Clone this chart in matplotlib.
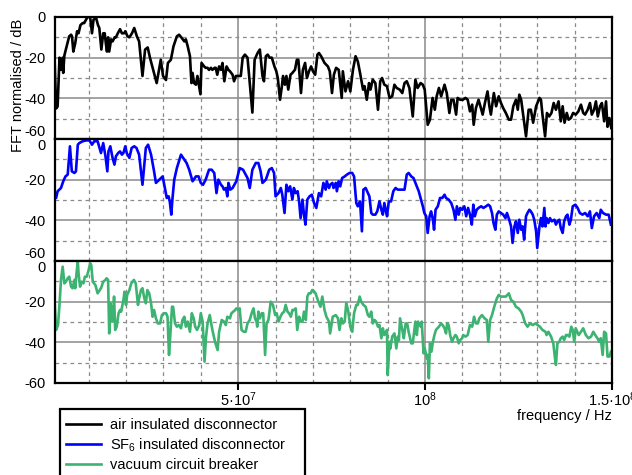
import matplotlib.pyplot as plt
from matplotlib.ticker import FixedLocator, MultipleLocator
from matplotlib.patches import Rectangle
import numpy as np

plt.rcParams['font.family'] = ['Liberation Sans', 'DejaVu Sans']
plt.rcParams['mathtext.fontset'] = 'custom'
plt.rcParams['mathtext.rm'] = 'Liberation Sans'
plt.rcParams['mathtext.it'] = 'Liberation Sans:italic'
plt.rcParams['axes.unicode_minus'] = False
plt.rcParams['font.size'] = 10.5

# normalised FFT spectra, frequency in MHz, level in dB
air_f = [0.8, 1.3, 1.7, 2.2, 2.6, 3.05, 3.2, 3.5, 3.9, 4.8, 5.3, 5.55, 5.9, 6.4, 6.9, 7.3, 7.8, 8.4, 8.8, 9.3,
         9.7, 10.4, 10.9, 11.3, 12.0, 12.5, 12.85, 13.4, 13.9, 14.3, 14.6, 14.9, 15.2, 15.5, 16.0, 16.4, 16.95,
         17.3, 17.8, 18.4, 18.9, 19.5, 19.8, 20.4, 20.9, 21.6, 22.2, 22.9, 23.5, 24.4, 25.1, 25.8, 26.4, 28.2,
         29.3, 29.9, 30.7, 31.2, 32.0, 32.7, 33.6, 34.2, 34.9, 35.6, 36.0, 36.5, 37.1, 37.5, 37.8, 38.2, 38.7,
         39.1, 39.9, 40.2, 40.9, 41.3, 41.8, 42.2, 42.7, 43.1, 43.7, 44.0, 44.4, 44.9, 45.4, 45.8, 46.3, 46.9,
         47.4, 47.8, 48.5, 48.9, 49.4, 50.1, 50.7, 51.2, 51.8, 52.5, 52.9, 53.8, 54.4, 55.2, 55.8, 56.5, 56.9,
         57.4, 57.9, 58.4, 59.0, 59.7, 60.2, 60.6, 61.2, 61.7, 62.0, 62.5, 62.9, 63.4, 64.0, 64.5, 65.2, 65.7,
         66.1, 66.8, 67.3, 67.9, 68.4, 68.95, 69.5, 70.0, 70.6, 71.2, 71.6,
         72.2, 73.1, 74.0, 74.5, 75.1, 75.6, 76.2, 76.9, 77.7, 78.0, 78.7, 79.4, 80.0, 80.7, 81.4, 82.0, 82.6,
         83.4, 83.8, 84.4, 85.0, 85.4, 86.0, 86.7, 87.4, 88.0, 88.5, 89.1, 89.8, 90.5, 91.2, 91.8, 92.4, 93.2,
         93.9, 94.5, 95.1, 95.8, 96.7, 97.4, 98.0, 98.8, 99.4, 99.9, 100.7, 101.3, 102.0, 102.6, 103.1, 103.7,
         104.3, 105.2, 105.8, 106.5, 107.0, 107.6, 108.3, 108.7, 109.4, 110.1, 110.8, 111.4, 112.0, 112.6,
         113.0, 113.6, 114.3, 114.8, 115.4, 116.0, 116.7, 117.2, 117.6, 118.4, 119.0, 119.7, 120.3, 120.9,
         121.6, 122.4, 123.0, 123.6, 124.3, 124.8, 125.2, 125.7, 127.0, 127.7, 128.3, 128.9, 129.7, 130.6,
         131.0, 131.4, 132.1, 132.6, 133.2, 133.8, 134.4, 135.0, 135.7, 136.3, 136.8, 137.3, 137.9, 138.4,
         139.0, 139.6, 140.3, 141.0, 141.7, 142.3, 142.8, 143.5, 144.1, 144.6, 145.2, 145.7, 146.2, 146.8,
         147.3, 147.9, 148.4, 148.8, 149.3, 149.8]
air_db = [-16, -45, -44, -20, -26, -20, -27.5, -19, -16, -9.5, -8.7, -9.5, -17, -13, -7, -8, -4, -3, -3, -1.3,
          0, 0, -8, -1.3, -0.5, -4, -5.4, -16, -8, -8, -13, -17, -10, -17, -11, -12, -10,
          -10, -8, -6, -8, -8, -7, -9.5, -10, -8, -5.4, -9.5, -12, -29, -16, -15, -20, -32.5,
          -21, -29, -31, -22.6, -21, -14.4, -9.5, -8.7, -10.3, -12, -11, -14.4, -19.3, -32.5, -27.5, -32.5, -33.3,
          -29, -38, -22.6, -24.3, -25, -25, -26, -25, -26, -25, -25, -28.4, -24.3, -26, -22.6, -31.6, -24.3,
          -26, -26.7, -28.4, -31.6, -29, -29, -29, -20, -18.5, -20, -28.4, -47, -21, -17.7, -16, -29, -31.6,
          -19.3, -18.5, -20, -20, -24.3, -26.7, -30, -40.7, -34, -29, -33.3, -29, -35.7, -28.4, -27.5, -25.9, -21,
          -21, -37.4, -26, -22.6, -30, -26.7, -24.3, -26.7, -28.4, -18.5, -17.7,
          -19.3, -22.6, -24.3, -26.7, -37.4, -28.4, -25, -26, -39.8, -26.7, -36.6, -31.6, -36.6, -26, -19.3, -21.8, -27.5,
          -35.7, -34, -40.7, -32.5, -35.7, -30.8, -32.5, -45.6, -31.6, -30, -33.3, -34, -39.8, -39, -33.3, -34.9, -35.7,
          -37.4, -32.5, -31.6, -34.9, -48.9, -30.8, -34.9, -32.5, -33.3, -35.7, -53, -50.5, -39.8, -45.6, -39, -34.9,
          -39, -33.3, -37.4, -47.2, -40.7, -40.7, -48, -39.8, -40.7, -40.7, -39.8, -40.7, -46.4, -43.1,
          -53, -44.8, -40.7, -43.9, -48, -42.3, -36.6, -43.9, -48, -37.4, -43.9, -39, -42.3, -44.8,
          -47.2, -50.5, -50.5, -43.9, -40.7, -45.6, -38.2, -40.7, -58.7, -45.6, -45.6, -52, -43.9, -39.8,
          -40.7, -48, -58.7, -47.2, -48.9, -47.2, -42.3, -45.6, -41.5, -51.3, -43.9, -52, -47.2, -50.5,
          -49.7, -47.2, -48, -46.4, -43.1, -47.2, -48, -45.6, -42.3, -48, -45.6, -41.5, -48.9, -43.9,
          -42.3, -51.3, -41.5, -54, -49.7, -54.6]

sf6_f = [0.8, 1.3, 1.7, 2.6, 3.2, 3.8, 4.4, 5.0, 5.5, 6.2, 6.6, 7.1, 7.5, 8.4, 9.3, 10.2, 10.9, 11.5, 12.4, 13.3,
         13.9, 14.5, 15.0, 15.3, 15.8, 16.4, 16.9, 17.3, 17.9, 18.4, 18.9, 19.3, 19.8, 20.2, 20.9, 21.5, 22.2,
         22.8, 23.5, 24.4, 25.3, 25.9, 26.7, 27.5, 28.0, 28.9, 29.8, 30.4, 30.9, 31.4, 31.7, 32.1, 32.4, 32.9,
         33.6, 34.7, 35.6, 36.2, 36.9, 37.8, 38.7, 39.4, 40.0, 40.6, 41.3, 42.2, 42.9, 43.6, 44.2, 44.7, 45.4,
         45.8, 46.2, 46.7, 47.1, 47.4, 47.9, 48.5, 49.5, 50.4, 51.3, 52.5, 53.1, 53.8, 54.7, 55.4, 56.0, 56.5,
         57.4, 58.3, 59.0, 59.6, 60.0, 60.8, 61.4, 61.8, 62.4, 62.9, 63.4, 63.9, 64.5, 64.9, 65.4, 65.9, 66.3,
         66.7, 67.2, 67.6, 68.0, 68.5, 69.1, 69.7, 70.3, 70.9,
         71.6, 72.2, 72.8, 73.4, 73.7, 74.3, 74.6, 75.2, 75.5, 76.1, 76.4, 76.9, 77.3, 77.8, 78.5, 79.1, 79.8,
         80.5, 81.0, 81.6, 82.0, 82.6, 83.1, 83.5, 84.1, 84.7, 85.1, 85.6, 86.0, 86.7, 87.2, 87.8, 88.3, 88.7,
         89.1, 89.8, 90.3, 90.9, 91.5, 92.1, 92.7, 93.6, 94.5, 95.1, 95.6, 96.3, 96.9, 97.6, 98.3, 98.9, 99.4,
         99.8, 100.3, 100.7, 101.2, 101.6, 102.1, 102.4, 102.8, 103.4, 104.0, 104.6, 105.2, 105.6, 106.3,
         107.0, 107.6, 108.1, 108.5, 109.0, 109.4, 109.9, 110.5, 111.0, 111.5, 112.0, 112.5, 112.9, 113.3,
         113.8, 114.3, 115.0, 115.6, 116.3, 116.9, 117.4, 117.9, 118.3, 118.8, 119.2, 119.7, 120.3, 120.9,
         121.5, 121.9, 122.5, 123.0, 123.4, 123.9, 124.3, 124.8, 125.2, 125.7, 126.1, 126.5, 127.0, 127.4,
         127.9, 128.3, 128.8, 129.2, 129.7, 130.0, 130.6, 131.0, 131.4, 131.9, 132.2, 132.5, 133.0, 133.4,
         133.9, 134.6, 135.0, 135.4, 135.9, 136.3, 136.8, 137.2, 137.7, 138.1, 138.6, 139.0, 139.5, 140.2,
         140.8, 141.4, 142.1, 142.8, 143.5, 144.1, 144.6, 145.2, 145.9, 146.6, 147.0, 147.6, 148.4, 149.1,
         149.7]
sf6_db = [-28.2, -29, -25.7, -24.1, -20.8, -18.4, -17.5, -3.6, -15.9, -16.7, -15.9, -2.8, -2, -1.1, -0.7, -0.7,
          -2.8, -1.1, -1.1, -6.9, -2, -8.5, -15.9, -6.1, -3.6, -9.3, -12.6, -8.5, -6.9, -6.1, -7.7, -6.9, -3.6,
          -6.9, -9.3, -4.4, -3.6, -4.4, -7.7, -22.5, -4.4, -2.8, -7.7, -15.9, -21.6, -20, -18.4, -24.1, -29,
          -28.2, -30.7, -37.2, -29.8, -20, -14.3, -7.7, -10.2, -11.8, -15.1, -20.8, -18.4, -18.4, -21.6, -22.5,
          -20, -15.1, -15.1, -16.7, -26.6, -20, -22.5, -23.3, -24.9, -24.1, -28.2, -21.6, -24.9, -24.1, -20.8,
          -14.3, -15.1, -19.2, -24.1, -15.1, -11.8, -11.8, -15.9, -21.6, -20, -15.1, -14.3, -16.7, -28.2, -26.6,
          -24.1, -27.4, -36.4, -22.5, -25.7, -23.3, -29.8, -24.1, -26.6, -25.7, -30.7, -38.9, -29.8, -37.2,
          -42.1, -29.8, -28.2, -27.4, -31.5, -33.9,
          -26.6, -28.2, -21.6, -24.9, -20.8, -24.1, -22.5, -21.6, -24.1, -21.6, -25.7, -20.8, -23.3, -19.2,
          -18.4, -17.5, -16.7, -16.7, -18.4, -31.5, -33.1, -30.7, -45.4, -24.9, -24.1, -26.6, -28.2, -36.4,
          -37.2, -37.2, -35.6, -30.7, -34.8, -37.2, -31.5, -38, -30.7, -30.7, -25.7, -24.1, -24.9, -24.9, -24.9,
          -17.5, -16.7, -18.4, -19.2, -22.5, -25.7, -29.8, -33.1, -36.4, -38, -46.2, -38, -35.6, -39.7, -44.6,
          -34.8, -33.1, -29, -29, -27.4, -29, -29.8, -31.5, -34.8, -39.7, -33.1, -37.2, -33.9, -34.8, -33.1,
          -38, -33.9, -37.2, -42.1, -32.3, -38, -34.8, -33.9, -33.1, -33.9, -33.1, -32.3, -33.1, -36.4, -41.3,
          -44.6, -37.2, -35.6, -36.4, -37.2, -38.9, -36.4, -39.7, -43, -51.1, -43, -40.5, -46.2, -39.7, -44.6,
          -43, -49.5, -38, -36.4, -34.8, -35.6, -37.2, -39.7, -45.4, -53.6, -43, -38.9, -43, -33.9, -43, -38.9,
          -41.3, -38.9, -40.5, -39.7, -42.1, -40.5, -39.7, -43.8, -46.2, -40.5, -38, -37.2, -42.1, -39.7,
          -33.1, -32.3, -33.9, -36.4, -37.2, -36.4, -38, -35.6, -43.8, -38, -36.4, -38.9, -34.8, -36.4, -37.2,
          -37.2, -42.1]

vcb_f = [0.8, 1.3, 1.8, 2.2, 2.6, 3.05, 3.5, 3.9, 4.4, 4.8, 5.3, 5.7, 6.2, 6.4, 6.8, 7.1, 7.3, 7.7, 8.1, 8.6,
         9.0, 9.5, 10.0, 10.4, 10.7, 11.1, 11.8, 12.4, 13.3, 13.9, 14.5, 14.8, 15.2, 15.5, 15.8, 16.1, 16.4,
         16.8, 17.1, 17.5, 18.0, 18.4, 18.7, 19.3, 19.6, 20.0, 20.3, 20.9, 21.4, 22.1, 22.6, 23.2, 23.5, 24.0,
         24.4, 24.9, 25.3, 25.7, 26.2, 26.7, 27.1, 27.5, 28.0, 28.5, 29.1, 29.6, 30.1, 30.7, 31.1, 31.5, 31.9,
         32.3, 32.6, 33.1, 33.6, 34.1, 34.7, 35.1, 35.6, 36.0, 36.5, 37.1, 37.6, 38.1, 38.5, 39.0, 39.6, 40.0,
         40.5, 40.6, 41.0, 41.4, 41.8, 42.4, 43.1, 43.8, 44.5, 44.9, 45.6, 46.2, 46.7, 47.1, 47.8, 48.2, 48.7,
         49.2, 49.5, 50.1, 50.4, 50.9, 51.5, 52.0, 52.5, 53.1, 53.6, 54.1, 54.5, 54.9, 55.1, 55.4, 55.8, 56.3,
         56.7, 57.2, 57.6, 58.1, 58.7, 59.3, 59.9, 60.3, 60.8, 61.3, 61.8, 62.3, 62.7, 63.2, 63.6, 64.1, 64.5,
         64.9, 65.4, 65.8, 66.3, 66.7, 67.2, 67.6, 68.1, 68.5, 68.9, 69.4, 69.8,
         70.0, 70.7, 71.3, 72.0, 72.5, 73.1, 73.6, 74.3, 74.6, 75.3, 76.1, 76.7, 77.1, 77.6, 78.0, 78.5, 78.9,
         79.4, 80.0, 80.5, 81.0, 81.6, 82.0, 82.5, 82.9, 83.5, 84.1, 84.7, 85.1, 85.6, 86.0, 86.5, 86.9, 87.4,
         87.8, 88.3, 88.7, 89.1, 89.8, 90.0, 90.5, 90.7, 91.2, 91.8, 92.3, 92.7, 93.0, 93.3, 93.9, 94.3, 94.8,
         95.2, 95.6, 96.0, 96.3, 96.7, 97.2, 97.4, 97.8, 98.1, 98.8, 99.1, 99.6, 99.9, 100.5, 100.7, 101.0,
         101.3, 101.7, 102.1, 102.5, 102.9, 103.7, 104.3, 104.7, 105.2, 105.6, 105.9, 106.3, 106.7, 107.2,
         107.6, 108.1, 108.5, 109.0, 109.4, 109.9, 110.2, 110.8, 111.4, 112.0, 112.6, 113.1, 113.6, 114.1,
         114.5, 115.2, 115.9, 116.5, 116.9, 117.4, 117.9, 118.5, 119.2, 119.7, 120.3, 120.9, 121.6, 122.4,
         123.0, 123.6, 124.3, 125.0, 125.7, 126.1, 126.8, 127.4, 128.1, 128.8, 129.5, 130.1, 130.7, 131.4,
         132.2, 132.5, 133.0, 133.7, 134.3, 134.7, 135.0, 135.4, 135.9, 136.3, 136.8, 137.2, 137.7, 138.1,
         138.6, 139.1, 139.5, 139.9, 140.3, 141.1, 141.7, 142.3, 143.0, 143.7, 144.4, 145.0, 145.5, 146.1,
         146.6, 147.0, 147.5, 147.9, 148.4, 148.8, 149.3, 149.7]
vcb_db = [-16.7, -33.9, -31.5, -21.6, -9.3, -2.8, -11, -10.2, -8.5, -7.7, -12.6, -13.4, -9.3, -13.4, -5.2, -0.3,
          -6.1, -12.6, -10.2, -11, -7.7, -7.7, -4.4, -1.1, -2, -10.2, -11.8, -15.9, -13.4, -10.2, -9.3, -8.5,
          -9.3, -35.6, -20.8, -23.3, -29.8, -17.5, -33.9, -32.3, -25.7, -24.1, -24.9, -19.2, -15.1, -21.6,
          -16.7, -14.3, -11, -9.3, -11, -21.6, -18.4, -14.3, -13.4, -18.4, -20.8, -14.3, -15.9, -20.8, -27.4,
          -24.1, -28.2, -30.7, -30.7, -26.6, -25.7, -25.7, -27.4, -46.2, -34.8, -22.5, -22.5, -30.7, -32.3,
          -31.5, -33.1, -29, -27.4, -32.3, -29.8, -34.8, -25.7, -28.2, -32.3, -33.9, -31.5, -25.7, -29.8,
          -33.9, -49.5, -37.2, -30.7, -26.6, -33.9, -39.7, -43.8, -34.8, -29, -29.8, -31.5, -27.4, -28.2,
          -25.7, -24.9, -24.1, -23.3, -24.1, -23.3, -33.9, -34.8, -34.8, -30.7, -29, -25.7, -23.3, -28.2,
          -29.8, -32.3, -24.9, -28.2, -25.7, -25.7, -46.2, -30.7, -29, -20, -21.6, -26.6, -25.7, -29.8, -27.4,
          -25.7, -24.9, -21.6, -24.9, -25.7, -27.4, -24.1, -24.1, -23.3, -33.9, -27.4, -29.8, -29.8, -24.9,
          -29, -17.5, -15.9, -15.9, -14.3,
          -14.3, -15.9, -19.2, -22.5, -17.5, -24.1, -27.4, -29.8, -35.6, -27.4, -26.6, -28.2, -33.9, -28.2,
          -30.7, -29.8, -20.8, -24.1, -32.3, -34.8, -25.7, -21.6, -21.6, -17.5, -20, -21.6, -22.5, -26.6,
          -27.4, -24.9, -30.7, -29, -29.8, -32.3, -31.5, -38, -33.1, -36.4, -33.9, -56.1, -39.7, -43, -37.2,
          -35.6, -43, -37.2, -38.9, -28.2, -33.9, -38, -30.7, -30.7, -34.8, -38, -40.5, -40.5, -33.1, -29.8,
          -36.4, -29.8, -32.3, -29.8, -45.4, -43, -47.9, -46.2, -57.7, -40.5, -44.6, -39.7, -36.4, -33.9,
          -32.3, -30.7, -31.5, -33.1, -35.6, -30.7, -31.5, -36.4, -39.7, -38, -36.4, -37.2, -40.5, -38.9, -38,
          -36.4, -37.2, -36.4, -31.5, -32.3, -27.4, -30.7, -30.7, -28.2, -26.6, -28.2, -29, -39.7, -29, -26.6,
          -22.5, -18.4, -16.7, -17.5, -17.5, -17.5, -15.9, -19.2, -20, -22.5, -23.3, -24.9, -26.6, -30.7,
          -32.3, -30.7, -31.5, -30.7, -31.5, -32.3, -33.9, -34.8, -36.4, -34.8, -37.2, -40.5, -47, -51.1,
          -40.5, -39.7, -38, -37.2, -38.9, -36.4, -36.4, -37.2, -32.3, -33.9, -39.7, -33.1, -36.4, -34.8,
          -33.1, -36.4, -38, -37.2, -34.8, -36.4, -38, -39.7, -38, -46.2, -34.8, -35.6, -47, -47, -44.6]

labels = ['air insulated disconnector', 'SF$_6$ insulated disconnector', 'vacuum circuit breaker']
colors = ['black', '#0000ff', '#3cb371']
series = [(air_f, air_db), (sf6_f, sf6_db), (vcb_f, vcb_db)]

fig = plt.figure(figsize=(6.32, 4.75), dpi=100)
W, H = 632, 475
panel_top = [17, 139, 261]
panel_h = 122

handles = []
for i, ((f, db), c, lab) in enumerate(zip(series, colors, labels)):
    ax = fig.add_axes([55 / W, 1 - (panel_top[i] + panel_h) / H, 557 / W, panel_h / H])
    line, = ax.plot(np.array(f) * 1e6, db, color=c, lw=1.9, label=lab)
    handles.append(line)
    ax.set_xlim(1e6, 1.5e8)
    ax.set_ylim(-60, 0)
    ax.xaxis.set_major_locator(FixedLocator([5e7, 1e8, 1.5e8]))
    ax.xaxis.set_minor_locator(MultipleLocator(1e7))
    ax.set_yticks([0, -20, -40, -60], ['0', '-20', '-40', '-60'])
    ax.yaxis.set_minor_locator(FixedLocator([-10, -30, -50]))
    ax.grid(which='major', color='#8a8a8a', lw=1.1)
    ax.grid(which='minor', color='#8a8a8a', lw=0.9, ls=(0, (3, 3)))
    ax.set_axisbelow(True)
    for s in ax.spines.values():
        s.set_linewidth(1.6)
    ax.tick_params(axis='y', which='both', length=0, pad=7)
    ax.tick_params(axis='x', which='minor', length=0)
    if i < 2:
        ax.tick_params(axis='x', which='major', length=0, labelbottom=False)
    else:
        ax.tick_params(axis='x', which='major', direction='out', length=5, width=1.5, pad=0)
        ax.set_xticklabels(['5·10$^{7}$', '10$^{8}$', '1.5·10$^{8}$'])
    # keep the edge labels of neighbouring panels apart
    for lbl in ax.get_yticklabels():
        if lbl.get_text() == '0' and i > 0:
            lbl.set_va('top')
        if lbl.get_text() == '-60' and i < 2:
            lbl.set_va('bottom')

fig.text(18 / W, 1 - 85 / H, 'FFT normalised / dB', rotation=90, ha='center', va='center')
fig.text(612 / W, 1 - 416 / H, 'frequency / Hz', ha='right', va='center')

# legend entries without their own frame; the box runs off the bottom edge
leg = fig.legend(handles, labels, loc='upper left', bbox_to_anchor=(66 / W, 1 - 418 / H),
                 frameon=False, borderpad=0, borderaxespad=0, handlelength=2.4,
                 handletextpad=0.6, labelspacing=0.29)
fig.add_artist(Rectangle((60 / W, 1 - 485 / H), 245 / W, 76 / H, transform=fig.transFigure,
                         fill=False, edgecolor='black', lw=1.6))

fig.savefig('out.png', dpi=100)
